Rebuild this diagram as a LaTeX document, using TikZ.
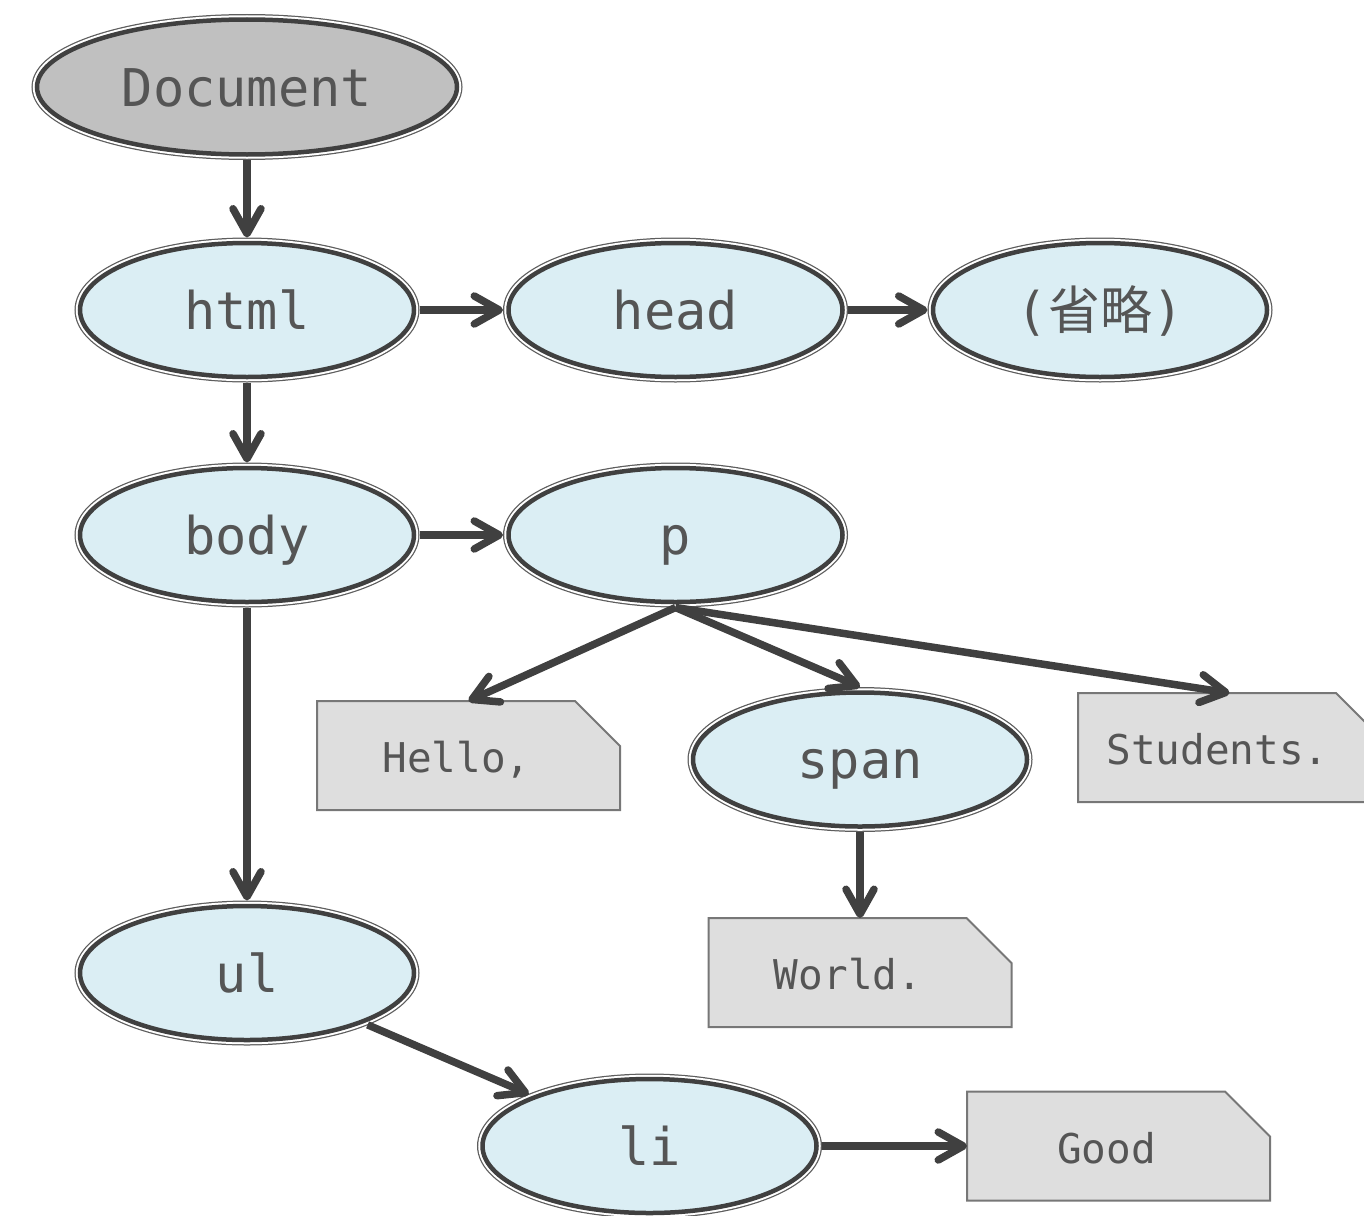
\documentclass[tikz,border=0pt]{standalone}
\usepackage{fontspec}
\setmonofont{DejaVu Sans Mono}
\newfontfamily\cjk{Noto Sans CJK SC}
\usetikzlibrary{shapes.geometric,arrows.meta,backgrounds}
\definecolor{dk}{HTML}{404040}
\definecolor{lb}{HTML}{DBEEF4}
\definecolor{dg}{HTML}{C0C0C0}
\definecolor{ng}{HTML}{DEDEDE}
\definecolor{nb}{HTML}{777777}
\definecolor{tx}{HTML}{555555}
\tikzset{
  enode/.style={ellipse, draw=dk, line width=4.5pt, fill=lb,
    minimum width=334pt, minimum height=134pt, inner sep=0pt, outer sep=5.5pt,
    text=tx, font=\ttfamily\fontsize{52}{60}\selectfont,
    text height=38pt, text depth=0pt,
    preaction={draw=dk!85, line width=11pt},
    preaction={draw=white, line width=8.5pt}},
  docnode/.style={enode, fill=dg, minimum width=420pt, minimum height=135pt},
  notebox/.style={rectangle, draw=none, minimum width=303pt, minimum height=109pt,
    inner sep=0pt, outer sep=0pt, text=tx, font=\ttfamily\fontsize{41}{48}\selectfont,
    text height=34pt, text depth=0pt},
  notepoly/.style={draw=nb, line width=2pt, fill=ng},
  conn/.style={draw=dk, line width=7.5pt,
    -{Straight Barb[length=25pt, width=28pt, round]}},
}
\newcommand{\notetxt}[1]{\hspace*{-24pt}#1}
\newcommand{\notedraw}[1]{%
  \path[notepoly] (#1.south west) -- (#1.north west) -- ([xshift=-45pt]#1.north east)
    -- ([yshift=-45pt]#1.north east) -- (#1.south east) -- cycle;}
\begin{document}
\begin{tikzpicture}[x=1pt, y=-1pt]
\useasboundingbox (0,0) rectangle (1364,1215);
\clip (0,0) rectangle (1364,1215);
% ellipses
\node[docnode] (doc) at (247,87) {Document};
\node[enode] (html) at (247,310) {html};
\node[enode] (head) at (675.5,310) {head};
\node[enode] (omit) at (1100,310) {({\cjk 省略})};
\node[enode] (body) at (247,535) {body};
\node[enode] (p) at (675.5,535) {p};
\node[enode] (span) at (860,759.5) {span};
\node[enode] (ul) at (247,973) {ul};
\node[enode] (li) at (649.5,1146) {li};
% notes
\node[notebox] (hello) at (468.5,755.5) {\notetxt{Hello,}};
\node[notebox] (stud) at (1229.5,747.5) {\notetxt{Students.}};
\node[notebox] (world) at (860,972.5) {\notetxt{World.}};
\node[notebox] (good) at (1118.5,1146) {\notetxt{Good}};
\begin{scope}[on background layer]
\notedraw{hello}
\notedraw{stud}
\notedraw{world}
\notedraw{good}
\end{scope}
% connectors
\draw[conn] (doc.south) -- (html.north);
\draw[conn] (html.east) -- (head.west);
\draw[conn] (head.east) -- (omit.west);
\draw[conn] (html.south) -- (body.north);
\draw[conn] (body.east) -- (p.west);
\draw[conn] (body.south) -- (ul.north);
\draw[conn] (p.south) -- (hello.north);
\draw[conn] (p.south) -- (span.north);
\draw[conn] (p.south) -- (stud.north);
\draw[conn] (span.south) -- (world.north);
\draw[conn] (ul) -- (li);
\draw[conn] (li.east) -- (good.west);
\end{tikzpicture}
\end{document}
